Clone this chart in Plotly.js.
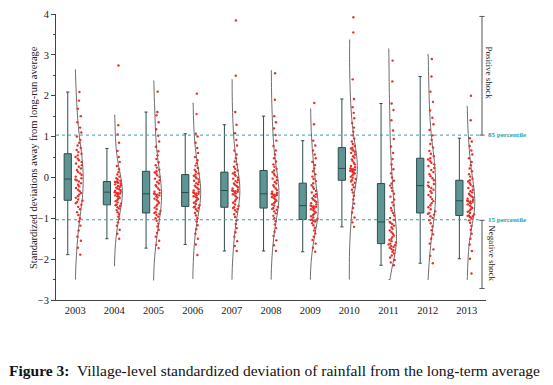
<!DOCTYPE html>
<html>
<head>
<meta charset="utf-8">
<script src="https://cdn.plot.ly/plotly-3.0.1.min.js"></script>
<style>html,body{margin:0;padding:0;background:#fff;}#chart{width:553px;height:385px;}</style>
</head>
<body>
<div id="chart"></div>
<script>
const years = [2003, 2004, 2005, 2006, 2007, 2008, 2009, 2010, 2011, 2012, 2013];

// Box statistics
const q1 =          [-0.56, -0.67, -0.87, -0.71, -0.73, -0.75, -1.03, -0.07, -1.62, -0.87, -0.93];
const medians =     [-0.04, -0.36, -0.40, -0.37, -0.32, -0.40, -0.69,  0.22, -1.09, -0.20, -0.57];
const q3 =          [ 0.58, -0.10,  0.15,  0.07,  0.13,  0.17, -0.14,  0.73, -0.15,  0.47, -0.07];
const lowerFence =  [-1.89, -1.50, -1.73, -1.64, -1.80, -1.80, -1.82, -1.21, -2.15, -2.10, -1.99];
const upperFence =  [ 2.09,  0.71,  1.60,  1.07,  1.29,  1.50,  0.90,  1.92,  1.81,  2.47,  0.96];

// Extent of each half-violin curve
const spanLow =  [-2.50, -2.17, -2.52, -2.48, -2.50, -2.50, -2.50, -2.50, -2.50, -2.50, -2.50];
const spanHigh = [ 2.64,  1.53,  2.37,  1.82,  2.40,  2.62,  1.68,  3.37,  3.15,  3.01,  1.74];

const v2003 = [-1.89,-1.72,-1.55,-1.45,-1.30,-1.18,-1.08,-1.00,-0.92,-0.85,-0.78,-0.72,-0.67,-0.63,-0.60,-0.57,-0.54,-0.50,-0.46,-0.42,-0.38,-0.34,-0.30,-0.26,-0.22,-0.18,-0.14,-0.10,-0.07,-0.05,-0.02,0.02,0.06,0.10,0.14,0.18,0.22,0.26,0.30,0.34,0.38,0.42,0.46,0.50,0.54,0.58,0.62,0.67,0.72,0.78,0.85,0.92,1.00,1.10,1.22,1.35,1.50,1.68,1.88,2.09];
const v2004 = [-1.50,-1.38,-1.28,-1.18,-1.10,-1.02,-0.96,-0.90,-0.85,-0.80,-0.76,-0.73,-0.70,-0.68,-0.66,-0.64,-0.61,-0.58,-0.55,-0.52,-0.50,-0.48,-0.46,-0.44,-0.42,-0.40,-0.39,-0.38,-0.37,-0.36,-0.35,-0.33,-0.31,-0.29,-0.27,-0.25,-0.23,-0.21,-0.19,-0.17,-0.15,-0.13,-0.12,-0.11,-0.10,-0.08,-0.05,-0.02,0.02,0.07,0.13,0.20,0.28,0.38,0.50,0.65,0.85,1.05,1.28,2.74];
const v2005 = [-1.73,-1.65,-1.55,-1.45,-1.36,-1.28,-1.20,-1.13,-1.06,-1.00,-0.96,-0.92,-0.89,-0.87,-0.85,-0.82,-0.78,-0.74,-0.70,-0.66,-0.62,-0.58,-0.55,-0.52,-0.49,-0.46,-0.44,-0.42,-0.41,-0.40,-0.38,-0.35,-0.31,-0.27,-0.23,-0.19,-0.15,-0.11,-0.07,-0.03,0.01,0.05,0.09,0.12,0.15,0.19,0.24,0.30,0.37,0.45,0.54,0.64,0.75,0.88,1.02,1.18,1.35,1.52,1.60,2.10];
const v2006 = [-1.90,-1.64,-1.50,-1.38,-1.27,-1.17,-1.08,-1.00,-0.93,-0.87,-0.82,-0.78,-0.75,-0.73,-0.71,-0.68,-0.65,-0.62,-0.59,-0.56,-0.53,-0.50,-0.48,-0.46,-0.44,-0.42,-0.40,-0.39,-0.38,-0.37,-0.35,-0.32,-0.29,-0.26,-0.23,-0.20,-0.17,-0.14,-0.11,-0.08,-0.05,-0.02,0.01,0.04,0.07,0.10,0.14,0.18,0.23,0.29,0.35,0.42,0.50,0.60,0.72,0.85,1.00,1.07,1.55,2.05];
const v2007 = [-1.80,-1.68,-1.56,-1.45,-1.34,-1.24,-1.14,-1.05,-0.97,-0.90,-0.84,-0.80,-0.77,-0.75,-0.73,-0.70,-0.66,-0.62,-0.58,-0.54,-0.50,-0.47,-0.44,-0.41,-0.39,-0.37,-0.35,-0.34,-0.33,-0.32,-0.30,-0.27,-0.24,-0.21,-0.18,-0.15,-0.12,-0.09,-0.06,-0.03,0.00,0.04,0.07,0.10,0.13,0.17,0.21,0.26,0.32,0.39,0.47,0.56,0.66,0.78,0.92,1.08,1.29,1.60,2.49,3.84];
const v2008 = [-1.80,-1.66,-1.54,-1.43,-1.33,-1.24,-1.15,-1.07,-1.00,-0.94,-0.88,-0.83,-0.79,-0.77,-0.75,-0.72,-0.69,-0.66,-0.63,-0.60,-0.57,-0.54,-0.51,-0.48,-0.46,-0.44,-0.43,-0.42,-0.41,-0.40,-0.38,-0.35,-0.31,-0.27,-0.23,-0.19,-0.15,-0.11,-0.07,-0.03,0.01,0.05,0.09,0.13,0.17,0.21,0.26,0.32,0.39,0.47,0.56,0.66,0.77,0.90,1.04,1.20,1.35,1.50,1.90,2.55];
const v2009 = [-1.82,-1.72,-1.62,-1.53,-1.45,-1.37,-1.30,-1.23,-1.17,-1.12,-1.08,-1.06,-1.05,-1.04,-1.03,-1.01,-0.98,-0.95,-0.92,-0.89,-0.86,-0.83,-0.80,-0.78,-0.76,-0.74,-0.72,-0.71,-0.70,-0.69,-0.66,-0.63,-0.60,-0.57,-0.54,-0.51,-0.48,-0.45,-0.41,-0.37,-0.33,-0.28,-0.24,-0.19,-0.14,-0.09,-0.04,0.02,0.08,0.15,0.22,0.30,0.38,0.47,0.56,0.66,0.78,0.90,1.30,1.82];
const v2010 = [-1.21,-1.10,-0.98,-0.86,-0.75,-0.64,-0.54,-0.45,-0.37,-0.30,-0.24,-0.18,-0.13,-0.10,-0.07,-0.04,-0.01,0.02,0.05,0.08,0.10,0.12,0.14,0.16,0.17,0.18,0.19,0.20,0.21,0.22,0.25,0.28,0.32,0.36,0.40,0.44,0.48,0.52,0.56,0.60,0.63,0.66,0.68,0.71,0.73,0.77,0.82,0.88,0.95,1.03,1.12,1.22,1.33,1.45,1.58,1.72,1.92,2.40,3.55,3.92];
const v2011 = [-2.15,-2.08,-2.02,-1.96,-1.91,-1.86,-1.82,-1.78,-1.75,-1.72,-1.70,-1.68,-1.66,-1.64,-1.62,-1.59,-1.56,-1.53,-1.50,-1.46,-1.42,-1.38,-1.34,-1.30,-1.26,-1.22,-1.18,-1.14,-1.11,-1.09,-1.04,-0.99,-0.93,-0.87,-0.81,-0.75,-0.68,-0.61,-0.54,-0.47,-0.40,-0.33,-0.26,-0.20,-0.15,-0.08,0.00,0.10,0.20,0.32,0.45,0.60,0.76,0.94,1.15,1.40,1.65,1.81,2.35,2.86];
const v2012 = [-2.10,-1.92,-1.76,-1.62,-1.50,-1.39,-1.29,-1.20,-1.12,-1.05,-0.99,-0.95,-0.91,-0.89,-0.87,-0.83,-0.78,-0.73,-0.68,-0.63,-0.58,-0.53,-0.48,-0.43,-0.38,-0.34,-0.30,-0.26,-0.23,-0.20,-0.16,-0.12,-0.07,-0.02,0.03,0.08,0.13,0.18,0.23,0.28,0.32,0.36,0.40,0.44,0.47,0.52,0.58,0.65,0.73,0.82,0.92,1.03,1.16,1.30,1.46,1.64,1.85,2.10,2.47,2.90];
const v2013 = [-2.35,-1.99,-1.80,-1.64,-1.50,-1.38,-1.28,-1.19,-1.11,-1.05,-1.00,-0.97,-0.95,-0.94,-0.93,-0.90,-0.87,-0.84,-0.81,-0.78,-0.75,-0.72,-0.69,-0.66,-0.64,-0.62,-0.60,-0.59,-0.58,-0.57,-0.55,-0.52,-0.49,-0.46,-0.43,-0.40,-0.37,-0.34,-0.30,-0.26,-0.22,-0.18,-0.14,-0.10,-0.07,-0.03,0.02,0.08,0.15,0.22,0.30,0.38,0.47,0.56,0.66,0.77,0.88,0.96,1.40,2.00];
const observations = [v2003, v2004, v2005, v2006, v2007, v2008, v2009, v2010, v2011, v2012, v2013];

// Shock thresholds (85th / 15th percentile of standard normal)
const thresholds = [1.036, -1.036];
const thresholdLabels = ['85 percentile', '15 percentile'];
const shockLabels = ['Positive shock', 'Negative shock'];
const positiveBracket = [1.036, 3.94];
const negativeBracket = [-1.05, -2.72];

const SERIF = 'Liberation Serif, Times New Roman, serif';
const BOX_OFFSET = 0.19;
const TEAL = '#3a9ea5';

const traces = [];
years.forEach((yr, i) => {
  traces.push({
    type: 'box',
    x: [yr - BOX_OFFSET],
    q1: [q1[i]], median: [medians[i]], q3: [q3[i]],
    lowerfence: [lowerFence[i]], upperfence: [upperFence[i]],
    width: 0.185,
    whiskerwidth: 0.45,
    boxpoints: false,
    fillcolor: '#5e9494',
    line: {color: '#2f4d4d', width: 1},
    showlegend: false,
    hoverinfo: 'skip'
  });
  traces.push({
    type: 'violin',
    x0: yr,
    y: observations[i],
    side: 'positive',
    width: 0.41,
    scalemode: 'width',
    spanmode: 'manual',
    span: [spanLow[i], spanHigh[i]],
    bandwidth: 0.42,
    line: {color: '#5e5e5e', width: 0.9},
    fillcolor: 'rgba(0,0,0,0)',
    points: 'all',
    pointpos: 0.5,
    jitter: 0.5,
    marker: {color: '#e8302a', size: 2.4},
    box: {visible: false},
    meanline: {visible: false},
    showlegend: false,
    hoverinfo: 'skip'
  });
});

const xBr = 0.9907;
const shapes = [];
thresholds.forEach(t => {
  shapes.push({type: 'line', xref: 'paper', yref: 'y', x0: 0, x1: xBr, y0: t, y1: t,
    line: {color: TEAL, width: 1, dash: 'dot'}});
});
[positiveBracket, negativeBracket].forEach(b => {
  shapes.push({type: 'line', xref: 'paper', yref: 'y', x0: xBr, x1: xBr, y0: b[0], y1: b[1],
    line: {color: '#555', width: 1}});
  b.forEach(v => shapes.push({type: 'line', xref: 'paper', yref: 'y', x0: xBr - 0.006, x1: xBr + 0.006, y0: v, y1: v,
    line: {color: '#555', width: 1}}));
});

const annotations = [];
thresholds.forEach((t, i) => {
  annotations.push({xref: 'paper', yref: 'y', x: 1.0, y: t, xanchor: 'left', yanchor: 'middle',
    text: '<b>' + thresholdLabels[i] + '</b>', showarrow: false,
    font: {family: SERIF, size: 7, color: TEAL}});
});
annotations.push({xref: 'paper', yref: 'y', x: 1.008, y: 2.56, xanchor: 'center', yanchor: 'middle',
  text: shockLabels[0], textangle: 90, showarrow: false, font: {family: SERIF, size: 9, color: '#222'}});
annotations.push({xref: 'paper', yref: 'y', x: 1.012, y: -1.86, xanchor: 'center', yanchor: 'middle',
  text: shockLabels[1], textangle: 90, showarrow: false, font: {family: SERIF, size: 9, color: '#222'}});
annotations.push({xref: 'paper', yref: 'paper', x: -0.0535, y: 0.5, xanchor: 'center', yanchor: 'middle',
  text: 'Standardized deviations away from long-run average', textangle: -90, showarrow: false,
  font: {family: SERIF, size: 10.5, color: '#222'}});
annotations.push({xref: 'paper', yref: 'paper', x: -0.114, y: -0.245, xanchor: 'left', yanchor: 'middle',
  text: '<b>Figure 3:</b>  Village-level standardized deviation of rainfall from the long-term average',
  showarrow: false, font: {family: SERIF, size: 15.5, color: '#111'}});

const layout = {
  width: 553, height: 385,
  margin: {l: 56, r: 67, t: 14, b: 85},
  paper_bgcolor: '#fff', plot_bgcolor: '#fff',
  boxmode: 'overlay', violinmode: 'overlay',
  showlegend: false,
  font: {family: SERIF, color: '#222'},
  xaxis: {
    range: [2002.51, 2013.49], tickmode: 'array', tickvals: years, ticktext: years.map(String),
    showgrid: false, zeroline: false, showline: true, linecolor: '#444', linewidth: 1,
    ticks: '', tickfont: {family: SERIF, size: 10.5, color: '#222'}
  },
  yaxis: {
    range: [-3, 4], dtick: 1, showgrid: false, zeroline: false, showline: true,
    linecolor: '#444', linewidth: 1, ticks: 'outside', ticklen: 4, tickcolor: '#444',
    minor: {dtick: 0.5, ticks: 'outside', ticklen: 2, tickcolor: '#444'},
    tickfont: {family: SERIF, size: 10.5, color: '#222'}
  },
  shapes: shapes,
  annotations: annotations
};

Plotly.newPlot('chart', traces, layout, {displayModeBar: false, staticPlot: true});
</script>
</body>
</html>
